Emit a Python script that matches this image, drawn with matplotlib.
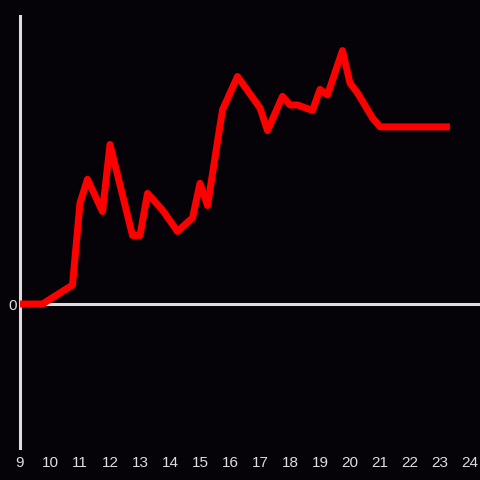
import matplotlib.pyplot as plt

# hour of day vs value
hours = [9, 9.75, 10.75, 11.0, 11.25, 11.75, 12.0, 12.75, 13.0, 13.25, 13.75,
         14.25, 14.75, 15.0, 15.25, 15.75, 16.25, 17.0, 17.25, 17.75, 18.0,
         18.25, 18.75, 19.0, 19.25, 19.75, 20.0, 20.25, 20.75, 21.0, 23.33]
values = [0, 0, 6.6, 35.1, 43.3, 32.1, 55.4, 23.8, 23.8, 38.4, 32.6,
          25.2, 29.9, 41.9, 34.2, 67.4, 79.0, 68.1, 60.2, 72.1, 69.1,
          69.1, 67.2, 74.5, 72.6, 88.0, 76.7, 73.3, 64.6, 61.5, 61.5]
xticks = list(range(9, 25))

bg = '#050307'
fg = '#dddddd'

fig = plt.figure(figsize=(4.8, 4.8), dpi=100, facecolor=bg)
ax = fig.add_axes([20/480, 32/480, 460/480, 432/480], facecolor=bg)

ax.axhline(0, color=fg, lw=2.2, zorder=1)
ax.plot(hours, values, color='#ff0000', lw=5, solid_capstyle='butt',
        solid_joinstyle='round', zorder=3)

ax.set_xlim(9, 9 + 460/30)
ax.set_ylim(-50, 100)

for s in ['top', 'right', 'bottom']:
    ax.spines[s].set_visible(False)
ax.spines['left'].set_color(fg)
ax.spines['left'].set_linewidth(2.2)

ax.set_xticks(xticks)
ax.set_xticklabels([str(t) for t in xticks])
ax.set_yticks([0])
ax.set_yticklabels(['0'])
ax.tick_params(length=0, colors=fg, labelsize=11)
ax.tick_params(axis='x', pad=6)
ax.tick_params(axis='y', pad=2)
for lab in ax.get_xticklabels() + ax.get_yticklabels():
    lab.set_fontfamily('Liberation Sans')

fig.savefig('out.png', dpi=100, facecolor=bg)
